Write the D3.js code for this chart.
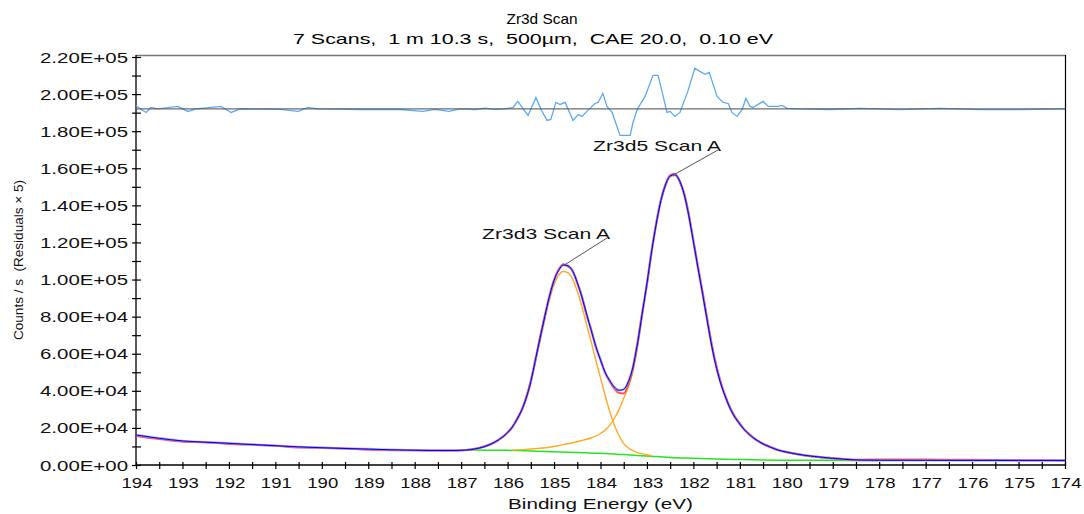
<!DOCTYPE html>
<html><head><meta charset="utf-8">
<script src="https://cdn.jsdelivr.net/npm/d3@7"></script>
<style>body{margin:0;background:#fff;}svg{display:block;font-family:"Liberation Sans",Arial,sans-serif;} text{white-space:pre;}</style>
</head><body><svg id="c" width="1084" height="514"></svg>
<script>
const titleLines = ["Zr3d Scan", "7 Scans,  1 m 10.3 s,  500\u00b5m,  CAE 20.0,  0.10 eV"];
const xTitle = "Binding Energy (eV)";
const yTitle = "Counts / s  (Residuals \u00d7 5)";
const xTicks = [194,193,192,191,190,189,188,187,186,185,184,183,182,181,180,179,178,177,176,175,174];
const yTicks = [0,20000,40000,60000,80000,100000,120000,140000,160000,180000,200000,220000];
const yTickLabels = ["0.00E+00","2.00E+04","4.00E+04","6.00E+04","8.00E+04","1.00E+05","1.20E+05","1.40E+05","1.60E+05","1.80E+05","2.00E+05","2.20E+05"];

const envE = [194,193.5,193,192.5,192,191.5,191,190.5,190,189.5,189,188.5,188,187.5,187.2,187,186.8,186.6,186.4,186.2,186,185.9,185.8,185.7,185.6,185.5,185.4,185.3,185.2,185.1,185,184.9,184.8,184.7,184.6,184.5,184.4,184.3,184.2,184.1,184,183.9,183.8,183.7,183.6,183.5,183.4,183.3,183.2,183.1,183,182.9,182.8,182.7,182.6,182.5,182.4,182.3,182.2,182.1,182,181.9,181.8,181.7,181.6,181.5,181.4,181.3,181.2,181.1,181,180.9,180.8,180.7,180.6,180.5,180.4,180.3,180.2,180,179.8,179.6,179.4,179.2,179,178.8,178.5,178,177,176,175,174];
const envelope = [16200,14400,13000,12300,11700,11000,10400,9800,9300,8900,8600,8200,7950,7800,7800,7900,8300,9200,10800,13500,17500,20500,24500,29500,36000,45000,57000,68500,80000,91000,99500,105000,107800,107500,104500,98500,90500,81500,72500,64000,56500,50000,45500,42000,40300,40800,45000,53000,66000,82000,98000,115000,130000,142500,151000,155800,156500,153500,146000,134500,120500,106000,92000,77500,63500,52000,43000,36000,30000,25500,22000,19000,16500,14500,12800,11400,10200,9200,8200,7000,6000,5200,4600,4100,3600,3200,2700,2550,2500,2450,2450,2450];
const rawCounts = [15700,14000,12600,12300,11300,11000,10400,9400,9300,8900,8200,8000,7950,7800,7800,7900,8300,9300,10900,13400,17600,20300,24800,29300,36500,45500,56500,69000,80500,90500,99800,105500,108300,107000,104800,98000,90800,81000,73000,63500,57000,49500,45000,41000,38800,38600,43500,52500,66500,82500,97500,115500,130500,143000,151500,156300,157000,153000,146500,135500,121000,107000,93000,78500,64500,53000,43800,36500,30500,25800,22500,19000,16800,14500,12900,11400,10400,9300,8400,7000,6100,5200,4600,4100,3800,3300,2800,3000,2900,2800,2600,2450];

const zr3d3E = [186.9,186.6,186.4,186.2,186,185.9,185.8,185.7,185.6,185.5,185.4,185.3,185.2,185.1,185,184.9,184.8,184.7,184.6,184.5,184.4,184.3,184.2,184.1,184,183.9,183.8,183.7,183.6,183.5,183.4,183.3,183.2,183.1,183,182.9];
const zr3d3 = [8100,9100,10600,13200,17100,20100,24000,28900,35300,44000,55700,67000,78300,89000,97200,102300,104300,103600,100200,93700,85300,75800,66300,56500,47000,37500,28800,21500,15800,11500,9200,7700,6700,6000,5500,5000];

const zr3d5E = [185.9,185.6,185.3,185,184.8,184.6,184.4,184.2,184,183.9,183.8,183.7,183.6,183.5,183.4,183.3,183.2,183.1,183,182.9,182.8,182.7,182.6,182.5,182.4,182.3,182.2,182.1,182,181.9,181.8,181.7,181.6,181.5,181.4,181.3,181.2,181.1,181,180.9,180.8,180.7,180.6,180.5,180.4,180.3,180.2,180,179.8,179.6,179.4,179.2,179,178.8,178.5,178];
const zr3d5 = [8000,8400,9000,10000,11000,12000,13200,14700,17000,18800,21500,25200,30000,36000,42000,50500,64000,80500,97000,114300,129500,142000,150600,155400,156100,153200,145700,134200,120200,105700,91800,77300,63300,51800,42800,35800,29800,25300,21800,18800,16300,14300,12600,11200,10000,9000,8000,6800,5800,5000,4400,3900,3400,3000,2700,2500];

const bgE = [186.9,186.5,186,185.5,185,184.5,184,183.5,183,182.5,182,181.5,181,180.5,180,179.5,179,178.5,178];
const background = [8100,8000,7900,7600,7100,6700,6300,5600,4800,4000,3600,3200,2900,2700,2550,2500,2500,2450,2450];

const residualBase = 192000;
const resE = [194,193.89,193.78,193.68,193.53,193.1,192.88,192.71,192.17,191.95,191.76,190.9,190.51,190.3,190.08,189.18,188.32,187.82,187.56,187.26,187.02,186.7,186.49,186.27,186.06,185.88,185.78,185.56,185.39,185.28,185.15,185.07,184.96,184.87,184.76,184.59,184.48,184.4,184.27,184.12,184.05,183.95,183.86,183.75,183.58,183.36,183.3,183.21,183.04,182.87,182.76,182.65,182.57,182.5,182.4,182.29,182.12,181.97,181.86,181.75,181.66,181.49,181.36,181.25,181.17,181.06,180.95,180.87,180.78,180.72,180.5,180.39,180.18,180.09,179.98,179.71,179.06,178.41,177.55,176.69,175.83,174.97,174];
const residuals = [193900,191700,190100,192800,192000,193350,190650,192000,193350,190100,192000,191800,190650,192800,192000,191700,191700,190650,191800,190650,192000,191600,192400,191800,192000,192800,196050,188500,198200,191700,185800,186300,195500,194400,195500,185800,189000,187950,191200,194950,195500,200350,193350,190100,177700,177700,184700,191700,198750,210100,210100,198750,190100,190650,187950,190100,201450,213900,212250,210650,211700,198750,195500,194950,190100,187950,191700,197650,193350,192800,196050,193350,193350,193900,192300,192000,191700,192300,191600,192300,191600,191600,192000];

const annotations = [
  {label:"Zr3d5 Scan A", E:182.42, v:156500, tx:657, ty:151},
  {label:"Zr3d3 Scan A", E:184.78, v:107800, tx:546, ty:239}
];

const svg = d3.select("#c");
const L = 136, R = 1065, T = 57, B = 465;
const x = d3.scaleLinear().domain([194,174]).range([L,R]);
const y = d3.scaleLinear().domain([0,220000]).range([B,T]);
const SG = "spacingAndGlyphs";

// Titles
svg.append("text").attr("x",542).attr("y",24).attr("text-anchor","middle").attr("font-size",15)
  .attr("textLength",71).attr("lengthAdjust",SG).text(titleLines[0]);
svg.append("text").attr("x",533).attr("y",44).attr("text-anchor","middle").attr("font-size",15)
  .attr("textLength",480).attr("lengthAdjust",SG).text(titleLines[1]);

// Frame
svg.append("line").attr("x1",L).attr("x2",R).attr("y1",55.5).attr("y2",55.5).attr("stroke","#777").attr("stroke-width",1.5);
svg.append("line").attr("x1",R+0.5).attr("x2",R+0.5).attr("y1",55).attr("y2",B).attr("stroke","#000").attr("stroke-width",1.2);

// Axes: minor + major ticks crossing the axis line
const yMinor = d3.range(0,220001,10000);
const yAxOut = d3.axisLeft(y).tickValues(yMinor).tickSize(4).tickFormat("");
const yAxIn = d3.axisLeft(y).tickValues(yMinor).tickSize(-5).tickFormat("");
const gy1 = svg.append("g").attr("transform",`translate(${L},0)`).call(yAxOut);
const gy2 = svg.append("g").attr("transform",`translate(${L},0)`).call(yAxIn);
[gy1,gy2].forEach(g=>{g.select(".domain").remove(); g.selectAll("line").attr("stroke","#000").attr("stroke-width",1.2);});
svg.append("line").attr("x1",L).attr("x2",L).attr("y1",55).attr("y2",B).attr("stroke","#000").attr("stroke-width",1.3);
const ylab = svg.append("g");
yTicks.forEach((t,i)=>{
  ylab.append("text").attr("x",128).attr("y",y(t)+5.5).attr("text-anchor","end").attr("font-size",15.5)
   .attr("textLength",88).attr("lengthAdjust",SG).attr("fill","#111").text(yTickLabels[i]);
});

const xMinor = d3.range(174,194.01,0.5);
const xAxOut = d3.axisBottom(x).tickValues(xMinor).tickSize(4).tickFormat("");
const xAxIn = d3.axisBottom(x).tickValues(xMinor).tickSize(-3).tickFormat("");
const gx1 = svg.append("g").attr("transform",`translate(0,${B})`).call(xAxOut);
const gx2 = svg.append("g").attr("transform",`translate(0,${B})`).call(xAxIn);
[gx1,gx2].forEach(g=>{g.select(".domain").remove(); g.selectAll("line").attr("stroke","#000").attr("stroke-width",1.2);});
svg.append("line").attr("x1",L).attr("x2",R+1).attr("y1",B).attr("y2",B).attr("stroke","#000").attr("stroke-width",1.3);
const xlab = svg.append("g");
xTicks.forEach(t=>{
  xlab.append("text").attr("x",x(t)+1).attr("y",488).attr("text-anchor","middle").attr("font-size",15.5)
   .attr("textLength",31).attr("lengthAdjust",SG).attr("fill","#111").text(t);
});

svg.append("text").attr("x",600.5).attr("y",509).attr("text-anchor","middle").attr("font-size",15.5)
  .attr("textLength",185).attr("lengthAdjust",SG).attr("fill","#111").text(xTitle);
svg.append("text").attr("transform","translate(23,260) rotate(-90)").attr("text-anchor","middle").attr("font-size",13.5)
  .attr("textLength",160).attr("lengthAdjust",SG).attr("fill","#111").text(yTitle);

// Series
const line = (E,V,curve)=>d3.line().x((d,i)=>x(E[i])).y(d=>y(d)).curve(curve||d3.curveMonotoneX)(V);

// residuals
svg.append("path").attr("d",line(resE,residuals,d3.curveLinear)).attr("fill","none").attr("stroke","#5aaaf2").attr("stroke-width",1.3);
svg.append("line").attr("x1",L).attr("x2",R).attr("y1",y(residualBase)).attr("y2",y(residualBase)).attr("stroke","#555").attr("stroke-width",1.2).attr("opacity",0.85);

// background
svg.append("path").attr("d",line(bgE,background)).attr("fill","none").attr("stroke","#22e622").attr("stroke-width",1.5);
// components
svg.append("path").attr("d",line(zr3d3E,zr3d3)).attr("fill","none").attr("stroke","#ffaa22").attr("stroke-width",1.4);
svg.append("path").attr("d",line(zr3d5E,zr3d5)).attr("fill","none").attr("stroke","#ffaa22").attr("stroke-width",1.4);
// raw data
svg.append("path").attr("d",line(envE,rawCounts)).attr("fill","none").attr("stroke","#ff3030").attr("stroke-width",2).attr("opacity",0.8);
// envelope
svg.append("path").attr("d",line(envE,envelope)).attr("fill","none").attr("stroke","#8080ff").attr("stroke-width",2.4).attr("opacity",0.6);
svg.append("path").attr("d",line(envE,envelope)).attr("fill","none").attr("stroke","#0000ee").attr("stroke-width",1);

// annotations
annotations.forEach(a=>{
  svg.append("line").attr("x1",x(a.E)).attr("y1",y(a.v)).attr("x2",a.tx+61).attr("y2",a.ty-1).attr("stroke","#555").attr("stroke-width",1);
  svg.append("text").attr("x",a.tx).attr("y",a.ty).attr("text-anchor","middle").attr("font-size",15)
    .attr("textLength",128).attr("lengthAdjust",SG).attr("fill","#111").text(a.label);
});
</script></body></html>
